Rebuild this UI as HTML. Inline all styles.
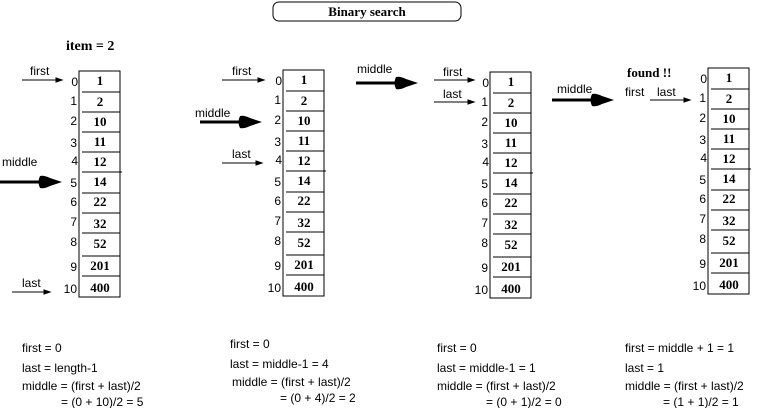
<!DOCTYPE html>
<html><head><meta charset="utf-8"><style>
html,body{margin:0;padding:0;background:#fff;}
svg{display:block;}
.s{font-family:"Liberation Sans",sans-serif;font-size:12px;fill:#000;}
.v{font-family:"Liberation Serif",serif;font-size:13px;font-weight:bold;fill:#000;text-anchor:middle;}
.i{font-family:"Liberation Sans",sans-serif;font-size:12px;fill:#000;text-anchor:end;}
.b{font-family:"Liberation Serif",serif;font-size:13px;font-weight:bold;fill:#000;}
</style></head><body>
<svg width="766" height="408" viewBox="0 0 766 408" xmlns="http://www.w3.org/2000/svg">
<defs>
<g id="arr">
<rect x="0" y="0" width="41" height="226" fill="none" stroke="#000" stroke-width="1"/>
<g stroke="#000" stroke-width="1">
<line x1="3" y1="21" x2="41" y2="21"/><line x1="3" y1="41" x2="41" y2="41"/>
<line x1="3" y1="61" x2="41" y2="61"/><line x1="3" y1="81" x2="41" y2="81"/>
<line x1="3" y1="101" x2="43" y2="101"/><line x1="3" y1="122" x2="41" y2="122"/>
<line x1="3" y1="142" x2="41" y2="142"/><line x1="3" y1="162" x2="41" y2="162"/>
<line x1="3" y1="185" x2="41" y2="185"/><line x1="3" y1="205" x2="41" y2="205"/>
</g>
<text class="v" x="21" y="14">1</text><text class="v" x="21" y="35">2</text>
<text class="v" x="21" y="55">10</text><text class="v" x="21" y="75">11</text>
<text class="v" x="21" y="95">12</text><text class="v" x="21" y="115">14</text>
<text class="v" x="21" y="135">22</text><text class="v" x="21" y="157">32</text>
<text class="v" x="21" y="177">52</text><text class="v" x="21" y="199">201</text>
<text class="v" x="21" y="221">400</text>
<text class="i" x="-1" y="15">0</text><text class="i" x="-2" y="34">1</text>
<text class="i" x="-2" y="54">2</text><text class="i" x="-2" y="76">3</text>
<text class="i" x="-1" y="94">4</text><text class="i" x="-2" y="116">5</text>
<text class="i" x="-2" y="135">6</text><text class="i" x="-2" y="155">7</text>
<text class="i" x="-2" y="175">8</text><text class="i" x="-2" y="200">9</text>
<text class="i" x="-2" y="222">10</text>
</g>
<g id="thick">
<line x1="-62" y1="0" x2="-20" y2="0" stroke="#000" stroke-width="3"/>
<path d="M0,0 L-12,-4 Q-18,-7 -22,-6 Q-25,0 -22,6 Q-18,7 -12,4 Z" fill="#000"/>
</g>
</defs>

<rect x="273" y="2" width="188" height="19" rx="6" fill="none" stroke="#000"/>
<text class="b" x="367" y="16" text-anchor="middle">Binary search</text>

<text class="b" x="66" y="50" style="font-size:14px">item = 2</text>
<use href="#arr" x="79" y="71"/>
<use href="#arr" x="283" y="70"/>
<use href="#arr" x="490" y="72"/>
<use href="#arr" x="708" y="68"/>

<g stroke="#000" fill="#000">
<line x1="22" y1="80" x2="60" y2="80"/><polygon points="62,80 56,78 56,82"/>
<line x1="12" y1="292" x2="48" y2="292"/><polygon points="50,292 44,290 44,294"/>
<line x1="222" y1="80" x2="262" y2="80"/><polygon points="264,80 258,78 258,82"/>
<line x1="222" y1="163" x2="260" y2="163"/><polygon points="262,163 256,161 256,165"/>
<line x1="434" y1="80" x2="472" y2="80"/><polygon points="474,80 468,78 468,82"/>
<line x1="434" y1="102" x2="472" y2="102"/><polygon points="474,102 468,100 468,104"/>
<line x1="650" y1="100" x2="688" y2="100"/><polygon points="690,100 684,98 684,102"/>
</g>
<use href="#thick" x="62" y="182"/>
<use href="#thick" x="262" y="122"/>
<use href="#thick" x="418" y="83"/>
<use href="#thick" x="614" y="100"/>

<text class="s" x="30" y="75">first</text>
<text class="s" x="2" y="166">middle</text>
<text class="s" x="22" y="287">last</text>

<text class="s" x="232" y="75">first</text>
<text class="s" x="195" y="117">middle</text>
<text class="s" x="232" y="158">last</text>

<text class="s" x="357" y="73">middle</text>
<text class="s" x="443" y="76">first</text>
<text class="s" x="443" y="98">last</text>

<text class="s" x="557" y="93">middle</text>
<text class="b" x="627" y="77">found !!</text>
<text class="s" x="625" y="96">first</text>
<text class="s" x="657" y="96">last</text>

<text class="s" x="22" y="352">first = 0</text>
<text class="s" x="22" y="372">last = length-1</text>
<text class="s" x="22" y="390">middle = (first + last)/2</text>
<text class="s" x="61" y="406">= (0 + 10)/2 = 5</text>

<text class="s" x="230" y="348">first = 0</text>
<text class="s" x="230" y="368">last = middle-1 = 4</text>
<text class="s" x="232" y="386">middle = (first + last)/2</text>
<text class="s" x="280" y="402">= (0 + 4)/2 = 2</text>

<text class="s" x="437" y="352">first = 0</text>
<text class="s" x="437" y="372">last = middle-1 = 1</text>
<text class="s" x="437" y="390">middle = (first + last)/2</text>
<text class="s" x="486" y="406">= (0 + 1)/2 = 0</text>

<text class="s" x="625" y="352">first = middle + 1 = 1</text>
<text class="s" x="625" y="372">last = 1</text>
<text class="s" x="625" y="390">middle = (first + last)/2</text>
<text class="s" x="663" y="406">= (1 + 1)/2 = 1</text>
</svg>
</body></html>
